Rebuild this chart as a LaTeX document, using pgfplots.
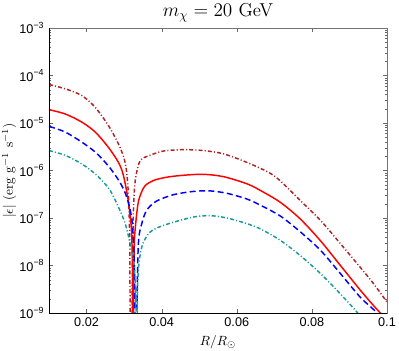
\documentclass[border=0pt]{standalone}
\usepackage{pgfplots}
\pgfplotsset{compat=1.18}
\usepackage{fontspec}
\newfontfamily\tickfont{Liberation Sans}
\definecolor{dred}{rgb}{0.70,0.13,0.15}
\definecolor{dteal}{rgb}{0.10,0.60,0.60}
\begin{document}
\begin{tikzpicture}
\begin{axis}[
  scale only axis, width=253.5pt, height=213.75pt,
  xmin=0.01, xmax=0.1, ymin=1e-9, ymax=1e-3, ymode=log,
  scaled x ticks=false,
  xtick={0.02,0.04,0.06,0.08,0.1},
  xticklabels={0.02,0.04,0.06,0.08,0.1},
  ytick={1e-9,1e-8,1e-7,1e-6,1e-5,1e-4,1e-3},
  yticklabels={10\textsuperscript{−9},10\textsuperscript{−8},10\textsuperscript{−7},10\textsuperscript{−6},10\textsuperscript{−5},10\textsuperscript{−4},10\textsuperscript{−3}},
  ticklabel style={font=\tickfont\fontsize{9.5}{10}\selectfont},
  axis line style={black!55},
  tick style={black!60},
  major tick length=3pt, minor tick length=1.6pt,
  tick align=inside,
  title={$m_\chi = 20$ GeV},
  title style={font=\fontsize{14}{16}\selectfont, at={(axis description cs:0.5,1)}, anchor=base, inner sep=0pt, yshift=2.5pt},
  xlabel={$R/R_\odot$},
  ylabel={$|\epsilon|$ (erg g$^{-1}$ s$^{-1}$)},
  ylabel shift=-4.5pt,
  every axis plot/.append style={line width=1.1pt, smooth, tension=0.5},
  clip=true,
]
% dark red dash-dot (top)
\addplot[dred, dash pattern=on 3pt off 1.6pt on 0.8pt off 1.6pt] coordinates {
(0.0100,6.46e-5) (0.0143,5.25e-5) (0.0187,3.80e-5) (0.0223,2.14e-5) (0.0258,8.91e-6)
(0.0285,3.63e-6) (0.0300,1.78e-6) (0.0307,8.91e-7) (0.0312,2.51e-7) (0.0315,3.16e-8)
(0.0316,1e-9) (0.03185,1e-12) (0.0321,1e-9) (0.0323,3.16e-8) (0.0326,2.51e-7)
(0.0331,7.24e-7) (0.0343,1.62e-6) (0.0369,2.09e-6) (0.0405,2.57e-6) (0.0458,2.75e-6)
(0.0511,2.63e-6) (0.0565,2.24e-6) (0.0627,1.48e-6) (0.0685,9.12e-7) (0.0716,6.03e-7)
(0.0769,2.34e-7) (0.0823,8.91e-8) (0.0876,2.88e-8) (0.0929,9.12e-9) (0.0965,4.07e-9)
(0.1000,1.70e-9)
};
% red solid
\addplot[red] coordinates {
(0.0100,1.91e-5) (0.0143,1.55e-5) (0.0187,1.05e-5) (0.0223,6.46e-6) (0.0258,3.09e-6)
(0.0285,1.48e-6) (0.0298,7.94e-7) (0.0311,2.34e-7) (0.0319,6.46e-8) (0.0322,1.29e-8)
(0.0323,1e-9) (0.0324,1e-12) (0.0325,1e-9) (0.0327,2.51e-8) (0.0330,6.46e-8)
(0.0337,2.00e-7) (0.0345,3.31e-7) (0.0356,4.79e-7) (0.0378,6.17e-7) (0.0414,7.24e-7)
(0.0458,7.94e-7) (0.0511,8.32e-7) (0.0565,7.41e-7) (0.0627,5.25e-7) (0.0663,3.80e-7)
(0.0716,2.14e-7) (0.0769,9.55e-8) (0.0823,3.31e-8) (0.0876,1.00e-8) (0.0929,3.02e-9)
(0.0965,1.41e-9) (0.1000,7.08e-10)
};
% blue dashed
\addplot[blue, dash pattern=on 4.5pt off 2.5pt] coordinates {
(0.0100,8.51e-6) (0.0143,6.46e-6) (0.0187,3.98e-6) (0.0223,2.45e-6) (0.0250,1.48e-6)
(0.0263,1.12e-6) (0.0289,5.62e-7) (0.0307,2.75e-7) (0.0321,8.91e-8) (0.0327,1.29e-8)
(0.0329,1e-9) (0.0331,1e-12) (0.0334,1e-9) (0.0338,2.88e-8) (0.0347,7.59e-8)
(0.0360,1.45e-7) (0.0385,2.24e-7) (0.0431,3.09e-7) (0.0485,3.63e-7) (0.0529,3.72e-7)
(0.0574,3.31e-7) (0.0627,2.51e-7) (0.0663,1.86e-7) (0.0716,1.10e-7) (0.0769,5.13e-8)
(0.0823,2.09e-8) (0.0876,6.76e-9) (0.0929,2.14e-9) (0.0973,1e-9) (0.0990,5e-10)
};
% teal dash-dot (bottom)
\addplot[dteal, dash pattern=on 3pt off 1.6pt on 0.8pt off 1.6pt] coordinates {
(0.0100,2.63e-6) (0.0143,2.09e-6) (0.0187,1.38e-6) (0.0223,8.51e-7) (0.0249,5.25e-7)
(0.0263,3.80e-7) (0.0285,1.70e-7) (0.0303,7.59e-8) (0.0316,2.88e-8) (0.0327,9.12e-9)
(0.0332,1e-9) (0.03335,1e-12) (0.0335,1e-9) (0.0338,7.94e-9) (0.0347,2.45e-8)
(0.0365,4.68e-8) (0.0390,6.31e-8) (0.0431,8.13e-8) (0.0485,1.05e-7) (0.0529,1.12e-7)
(0.0574,1.00e-7) (0.0627,7.59e-8) (0.0663,5.89e-8) (0.0716,3.39e-8) (0.0769,1.62e-8)
(0.0823,6.76e-9) (0.0876,2.51e-9) (0.0922,1e-9) (0.0950,5e-10)
};
\draw[black, line width=0.6pt] (axis description cs:0,1) -- (axis description cs:0,0) -- (axis description cs:1,0);
\end{axis}
\pgfresetboundingbox
\path[use as bounding box] (-36.75pt,-27.75pt) rectangle (262.5pt,234.75pt);
\end{tikzpicture}
\end{document}
